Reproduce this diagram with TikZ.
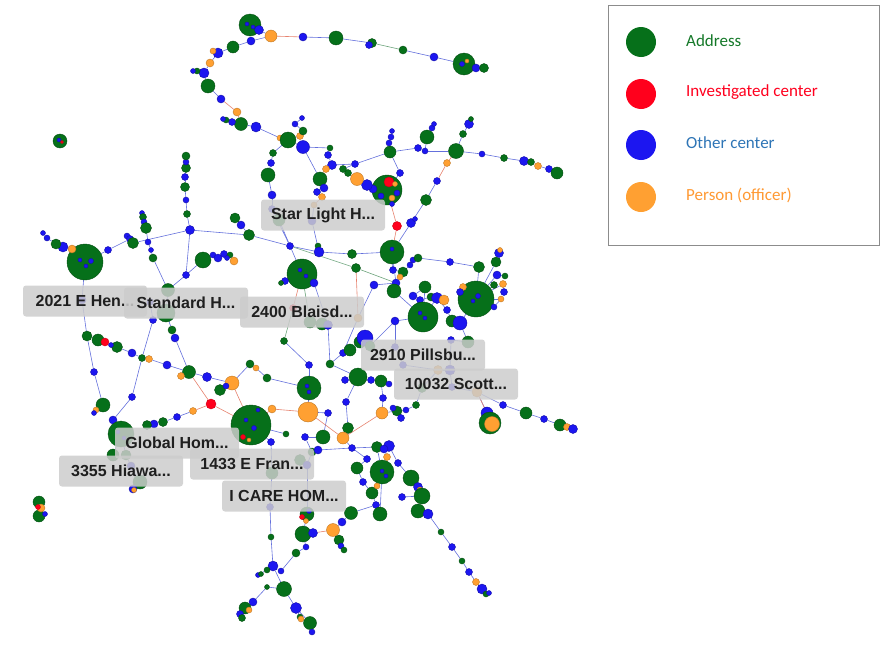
\documentclass[tikz,border=0pt]{standalone}
\usepackage{fontspec}
\setmainfont{Liberation Sans}
\newfontfamily\legfont{Carlito}
\usetikzlibrary{backgrounds}
\definecolor{gA}{RGB}{6,112,26}
\definecolor{bO}{RGB}{28,22,240}
\definecolor{rI}{RGB}{255,0,28}
\definecolor{oP}{RGB}{255,160,50}
\definecolor{eB}{RGB}{100,112,220}
\definecolor{eG}{RGB}{110,165,125}
\definecolor{eR}{RGB}{230,130,110}
\definecolor{lblue}{RGB}{46,117,182}
\definecolor{lgreen}{RGB}{20,120,40}
\definecolor{lorange}{RGB}{255,153,51}
\definecolor{lred}{RGB}{255,0,30}
\tikzset{
 vtx/.style={circle, inner sep=0pt, line width=0.4pt},
 adr/.style={vtx, fill=gA, draw=gA!70!black},
 inv/.style={vtx, fill=rI, draw=rI!80!black},
 oth/.style={vtx, fill=bO, draw=bO!70!black},
 per/.style={vtx, fill=oP, draw=oP!75!black},
 eb/.style={draw=eB, line width=0.6pt},
 eg/.style={draw=eG, line width=0.6pt},
 er/.style={draw=eR, line width=0.6pt},
 lbl/.style={fill=black!20, fill opacity=0.85, text opacity=1, rounded corners=3pt,
   minimum width=124pt, minimum height=31pt, inner xsep=6pt, text=black!88,
   font=\bfseries\fontsize{16}{18}\selectfont},
 legdot/.style={circle, inner sep=0pt, minimum size=30pt},
 legtxt/.style={anchor=west, inner sep=0pt, font=\legfont\fontsize{17}{20}\selectfont}
}
\begin{document}
\begin{tikzpicture}[x=1pt,y=-1pt]
\useasboundingbox (0,0) rectangle (887,648);
% ---------------- nodes ----------------
\foreach \nn/\xx/\yy/\kk/\ss in {
t1/250/25/adr/22, t2/259/30/oth/9, t3/271/36/per/12, t4/303/37/oth/8, t5/336/38/adr/14,
t6/372/43/adr/9, t6b/369/45/oth/7, t7/403/50/adr/8, t8/434/57/oth/8, t9/464/64/adr/22,
t10/476/68/oth/8, t11/484/68/adr/9, t12/251/41/oth/8, t13/233/47/adr/12, t14/218/53/oth/10,
t15/213/51/per/6, t16/210/63/per/8, t17/204/73/oth/10, t17b/197/71/adr/6, t17c/193/71/oth/5,
t18/208/86/adr/14, t19/221/99/oth/8, t20/237/112/per/8, t21/241/124/adr/13, t21b/232/122/oth/7,
t21c/226/120/adr/6, t21d/223/119/oth/5, t22/256/127/oth/10,
L0/60/141/adr/14,
f1/280/138/per/6, f2/288/140/adr/16, f3/300/136/per/7, f4/303/131/adr/8, f5/295/124/oth/6,
f5b/302/118/oth/5, f7/303/147/oth/13, f8/273/153/adr/7, f9/271/163/oth/7, f10/268/175/adr/14,
f11/272/195/oth/8, f12/272/209/oth/7, f13/279/220/adr/12, f14/330/148/adr/6, f15/328/155/oth/7,
f16/332/165/oth/9, f17/326/169/per/7, f18/320/179/adr/14, f19/324/188/oth/8, f20/317/192/oth/7,
f21/322/197/per/7, f22/314/205/per/6, f23/312/221/oth/8,
e1/390/152/adr/12, e2/389/143/oth/6, e3/391/137/oth/6, e4/392/131/oth/5, e5/427/137/adr/14,
e6/432/128/oth/6, e7/434/124/oth/5, e8/418/148/oth/7, e9/425/151/oth/6, e10/456/151/adr/15,
e11/463/134/adr/7, e12/469/124/oth/9, e13/471/119/adr/5, e14/447/163/per/7, e15/437/181/oth/7,
e16/426/200/adr/11, e17/411/223/oth/9, e18/415/219/oth/5, e19/482/154/oth/6, e20/504/158/adr/7,
e21/524/161/oth/9, e22/531/162/adr/7, e23/538/166/per/7, e24/549/169/oth/7, e25/557/173/adr/12,
e26/387/190/adr/30, e27/389/182/inv/10, e28/395/184/per/5, e29/381/196/oth/6, e30/392/198/per/6,
e31/397/193/oth/6, e32/397/226/inv/9, e33/373/189/oth/8, e34/367/185/oth/11, e35/357/179/per/13,
e36/348/173/adr/7, e37/343/169/adr/7, e39/355/164/oth/7, e40/400/173/oth/7,
a1/85/262/adr/36, a2/72/249/per/8, a3/63/247/oth/10, a4/56/244/adr/10, a5/47/238/oth/6,
a6/43/233/oth/5, a7/108/250/oth/7, a8/127/236/oth/6, a9/130/239/oth/7, a10/133/243/adr/11,
a11/142/213/oth/5, a12/143/217/adr/7, a13/144/222/oth/6, a14/146/228/adr/11, a15/190/230/oth/9,
a16/187/214/adr/7, a17/186/200/oth/6, a18/185/187/adr/9, a19/185/177/oth/7, a20/186/168/adr/9,
a21/186/162/oth/6, a22/186/156/adr/8, a23/249/235/adr/11, a24/235/218/adr/10, a25/241/225/oth/8,
a26/203/260/adr/16, a27/213/255/oth/6, a28/218/258/oth/8, a29/224/254/oth/7, a30/230/255/adr/6,
a31/234/261/per/8, a32/227/258/oth/5, a33/186/275/oth/7, a34/168/290/adr/13, a35/166/313/adr/18,
a36/150/302/oth/7, a37/148/242/oth/6, a38/151/250/oth/5, a39/153/258/adr/8,
c1/82/300/oth/8, c2/87/336/adr/10, c3/98/340/adr/12, c4/105/342/inv/8, c5/117/347/adr/11,
c5b/111/345/oth/5, c6/132/353/oth/8, c7/142/358/adr/7, c8/149/359/per/7, c9/167/365/oth/8,
c10/189/372/adr/13, c11/181/376/per/7, c12/207/377/oth/9, c13/232/383/per/14, c14/220/390/adr/11,
c14b/226/386/oth/6, c15/94/372/oth/7, c16/103/405/adr/14, c17/96/410/per/6, c18/94/413/oth/5,
c19/113/420/oth/8, c20/132/397/oth/7, c21/211/404/inv/10, c22/193/411/per/7, c23/177/417/oth/7,
c24/163/422/adr/9, c25/154/424/oth/8, c26/147/425/adr/9, c27/121/434/adr/26, c28/113/455/adr/12,
c29/126/455/adr/10, c30/131/466/oth/8, c31/140/482/adr/14, c32/133/489/oth/8, c33/134/490/per/5,
c34/172/330/adr/8, c35/175/338/oth/8, c36/153/320/oth/7,
LL1/39/502/adr/12, LL2/39/516/adr/12, LL3/41/508/per/8, LL4/38/507/inv/5, LL5/45/514/oth/5,
d1/251/425/adr/40, d4/272/409/per/8, d5/308/412/per/20, d6/309/388/adr/24, d7/328/413/oth/7,
d8/323/437/adr/14, d9/250/364/adr/8, d10/256/368/per/6, d11/267/378/adr/8, d12/284/341/adr/7,
d13/309/365/oth/7, d14/330/364/adr/8, d15/343/353/oth/7, d16/350/350/adr/12, d17/360/342/adr/12,
d18/365/338/oth/16, d19/370/346/adr/10, d20/358/377/adr/18, d21/371/380/oth/7, d22/382/413/per/12,
d23/397/411/adr/10, d24/393/408/oth/6, d25/401/418/oth/7, d26/406/410/oth/6, d27/346/402/oth/7,
d28/348/428/adr/11, d29/343/438/per/12, d30/352/448/oth/7, d31/382/472/adr/24, d32/383/398/oth/7,
d33/403/365/oth/7, d34/438/370/per/9, d35/293/308/inv/7, d36/358/318/per/8, d37/310/322/adr/12,
d38/322/324/adr/12, d39/328/325/oth/9, d40/290/246/oth/7, d41/318/246/adr/6, d42/319/252/oth/10,
d43/352/254/adr/9, d44/356/268/adr/9, d45/302/274/adr/30, d46/285/281/oth/7, d47/281/283/adr/5,
d48/314/283/oth/8, d49/392/252/adr/24, d50/374/285/oth/8, d51/393/270/oth/7, d52/403/272/adr/10,
d53/400/277/per/6, d54/410/265/oth/6, d55/413/260/oth/6, d56/418/258/adr/8, d57/396/283/oth/8,
d58/394/291/adr/14, d59/425/287/adr/12, d60/413/296/oth/8, d61/420/300/oth/7, d62/431/297/adr/8,
d63/423/317/adr/30, d64/395/321/oth/8, d65/437/298/oth/11, d66/444/300/per/10, d67/447/310/oth/7,
d68/452/321/adr/12, d69/460/323/oth/14, d70/476/299/adr/36, d71/496/262/adr/10, d72/499/253/oth/9,
d73/500/250/per/5, d74/450/262/oth/7, d77/479/267/adr/11, d78/497/275/oth/8, d79/505/276/adr/6,
d80/503/284/per/7, d81/504/292/oth/7, d82/501/299/per/6, d83/494/307/oth/6, d84/463/287/per/7,
d85/460/292/oth/7, d86/494/285/adr/7, d88/468/342/adr/12, d89/451/340/oth/7, d90/450/370/oth/10,
d91/452/387/oth/7, d92/477/392/per/10, d93/487/413/oth/12, d94/490/423/adr/22, d95/492/424/per/15,
d96/503/405/oth/7, d97/526/413/adr/12, d98/544/419/oth/7, d99/560/425/adr/12, d100/567/427/per/7,
d101/573/429/oth/9, d102/416/405/adr/7, d103/422/388/adr/9, d104/395/347/oth/7, d112/377/447/adr/11,
d113/389/446/oth/11, d114/384/449/oth/8, d115/387/457/per/7, d116/398/463/oth/7, h6/381/381/adr/12,
h7/389/384/oth/6, h8/271/442/oth/7, h3/305/437/oth/7, h2/286/434/adr/6, h5/345/380/oth/7,
g1/272/473/adr/12, g3/300/460/adr/11, g4/307/465/oth/8, g5/312/452/adr/8, g6/318/450/oth/8,
g7/270/507/oth/7, g8/307/514/adr/14, g9/302/517/inv/5, g10/306/521/per/5, g11/309/511/oth/5,
g12/303/534/adr/16, g13/313/533/oth/9, g14/306/547/oth/6, g15/333/530/per/13, g16/339/540/adr/10,
g17/341/546/oth/6, g18/344/550/adr/6, g19/351/513/adr/13, g20/342/522/oth/8, g21/296/553/adr/8,
g22/271/537/adr/6, g23/273/566/oth/10, g24/281/571/oth/6, g25/267/570/adr/6, g26/258/575/oth/5,
g27/261/574/adr/5, g28/284/589/adr/15, g29/267/587/adr/5, g30/253/602/oth/8, g31/245/608/adr/12,
g32/240/614/oth/7, g33/249/610/per/6, g34/242/618/adr/7, g35/296/608/oth/11, g36/300/617/adr/6,
g37/301/619/per/6, g38/310/623/adr/13, g39/312/632/oth/6, g40/357/468/adr/12, g41/363/482/oth/7,
g42/372/493/adr/12, g43/377/486/per/6, g44/376/505/oth/7, g45/380/514/adr/14, g46/367/459/oth/7,
g47/411/478/adr/16, g48/418/487/oth/9, g49/420/490/per/6, g50/422/496/adr/16, g51/402/497/oth/7,
g52/418/511/adr/14, g53/428/514/oth/10, g54/441/532/adr/6, g55/452/547/oth/7, g56/462/561/adr/6,
g57/469/572/oth/7, g58/476/582/per/7, g59/482/589/oth/10, g60/486/594/adr/6, g61/489/593/oth/5,
x1/80/260/oth/4, x2/86/266/oth/4, x3/91/261/oth/5, x4/300/270/oth/4, x5/306/276/oth/4,
x6/246/420/oth/4, x7/254/428/oth/5, x8/243/437/inv/5, x9/249/440/per/4, x10/478/296/oth/5,
x11/473/301/oth/4, x12/420/313/oth/4, x13/425/318/oth/4, x14/118/432/oth/4, x15/124/438/oth/4,
x16/462/64/oth/5, x17/467/61/per/4, x18/247/24/oth/4, x19/253/27/oth/4, x20/307/386/oth/4,
x21/309/392/oth/4, x22/392/249/oth/4, x23/382/471/oth/4, x24/386/476/oth/4, x25/59/140/oth/4,
x26/62/142/inv/3, x27/392/204/oth/5, x28/258/410/oth/4}{%
  \node[\kk, minimum size=\ss pt] (\nn) at (\xx,\yy) {};
}
% ---------------- connectors ----------------
\begin{pgfonlayer}{background}
\foreach \aa/\bb in {
t9/t8, t8/t7, t6/t5, t5/t4, t3/t12, t12/t13, t13/t14, t14/t16, t16/t17, t17/t18, t18/t19,
t22/f1, t1/t2, t2/t3, t9/t10, t10/t11, t6/t6b, t14/t15, t17/t17b, t17b/t17c, t21/t21b,
t21b/t21c, t21c/t21d, t21/t22,
f1/f2, f2/f3, f3/f4, f4/f5, f5/f5b, f2/f7, f2/f8, f8/f9, f9/f10, f10/f11, f11/f12, f12/f13,
f7/f14, f14/f15, f15/f16, f7/f18, f18/f19, f19/f20, f20/f21, f22/f23, f23/d42, f16/e39,
e39/e1, e1/e2, e2/e3, e3/e4, e1/e8, e8/e9, e9/e10, e5/e9, e5/e6, e6/e7, e10/e11, e11/e12,
e12/e13, e10/e19, e19/e20, e20/e21, e21/e22, e23/e24, e24/e25, e15/e16, e16/e17, e17/e18,
e17/d49, e1/e40, e40/e26, e26/e33, e33/e34, e36/e37, e37/e39,
a2/a3, a3/a4, a4/a5, a5/a6, a1/a7, a7/a9, a9/a8, a9/a10, a10/a15, a15/a23, a15/a16,
a16/a17, a17/a18, a18/a19, a19/a20, a20/a21, a21/a22, a14/a13, a13/a12, a12/a11, a14/a37,
a37/a38, a38/a39, a39/a34, a15/a33, a33/a34, a33/a26, a26/a27, a27/a28, a28/a29, a29/a30,
a30/a31, a29/a32, a24/a25, a25/a23, a23/d40, a34/a35, a35/a36,
c1/a1, c1/c2, c2/c3, c4/c5, c5/c5b, c5/c6, c6/c7, c7/c8, c8/c9, c9/c10, c10/c11, c10/c12,
c12/c13, c13/c14, c14/c14b, c2/c15, c15/c16, c16/c17, c16/c18, c36/c7, c7/c20, c20/c19,
c19/c27, c22/c23, c23/c24, c24/c25, c25/c26, c27/c28, c27/c29, c29/c30, c30/c31, c31/c32,
c32/c33, a35/c34, c34/c35, c35/c10, a36/c36, LL1/LL3, LL3/LL2, LL2/LL5, LL1/LL4,
d40/d42, d41/d42, d42/d43, d43/d49, d45/d46, d46/d47, d45/d48, d48/d39, d37/d38, d38/d39,
d39/d14, d14/d15, d15/d16, d16/d17, d17/d18, d18/d19, d19/d64, d50/d36, d36/d15, d57/d50,
d49/d51, d51/d52, d52/d53, d52/d54, d54/d55, d55/d56, d56/d74, d74/d77, d77/d70, d49/d57,
d57/d58, d58/d63, d63/d64, d63/d59, d59/d60, d60/d61, d61/d62, d63/d65, d65/d66, d65/d67,
d67/d68, d68/d69, d69/d70, d70/d71, d71/d72, d72/d73, d70/d78, d78/d79, d70/d80, d80/d81,
d70/d82, d82/d83, d70/d84, d84/d85, d70/d86, d69/d88, d88/d89, d89/d90, d90/d34, d34/d33,
d90/d91, d91/d92, d92/d93, d93/d94, d92/d96, d96/d97, d97/d98, d98/d99, d99/d100, d100/d101,
d64/d104, d104/d33, d13/d6, d6/d5, d5/d7, d7/d8, d6/d11, d11/d10, d10/d9, d9/c13, d12/d13,
d14/d20, d20/h5, d20/d21, d21/h7, h7/h6, h6/d32, d32/d22, d22/d23, d23/d24, d23/d25, d23/d26,
d26/d102, d102/d103, d103/d34, d20/d27, d27/d28, d28/d29, d29/d30, d30/d112, d112/d113,
d113/d114, d114/d115, d113/d116, d31/d112, d31/g45, d116/g47, d8/h3, h3/g5, h2/d1, d1/h8,
h8/g1, g1/g7, g7/g22, g22/g23, g23/g24, g23/g25, g25/g26, g26/g27, g23/g28, g28/g29, g29/g30,
g30/g31, g31/g32, g31/g33, g31/g34, g28/g35, g35/g36, g36/g37, g35/g38, g38/g39, g3/g4,
g4/g5, g5/g6, g6/d30, g4/g8, g8/g11, g8/g12, g12/g13, g15/g20, g20/g19, g19/g44, g44/g42,
g42/g43, g41/g42, g40/g41, g46/g40, d30/g46, g44/g45, g15/g16, g16/g17, g17/g18, g12/g14,
g14/g21, g21/g24, g47/g48, g48/g49, g47/g50, g50/g51, g50/g52, g52/g53, g53/g54, g54/g55,
g55/g56, g56/g57, g57/g58, g58/g59, g59/g60, g60/g61, f13/d45, f12/d40, d93/d95}{%
  \draw[eb] (\aa) -- (\bb);
}
\foreach \aa/\bb in {
t3/t4, t19/t20, t20/t21, e26/e32, e32/d49, e10/e14, e14/e15, e22/e23, e34/e35, e35/e36,
f16/f17, f17/f18, f21/f22, a1/a2, c3/c4, c13/d1, c10/c21, c21/c22, c21/d1, d1/d4, d4/d5,
d45/d35, d36/d44, d29/d22, g8/g9, g8/g10, g13/g15, d92/d95, d5/d29}{%
  \draw[er] (\aa) -- (\bb);
}
\foreach \aa/\bb in {t7/t6, d35/d12, d40/d44, d44/d57, c36/a35, d37/d45}{%
  \draw[eg] (\aa) -- (\bb);
}
\end{pgfonlayer}
% ---------------- labels ----------------
\node[lbl] (lb1) at (323,215) {Star Light H...};
\node[lbl] (lb2) at (85,301) {2021 E Hen...};
\node[lbl] (lb3) at (186,303) {Standard H...};
\node[lbl] (lb4) at (302,312) {2400 Blaisd...};
\node[lbl] (lb5) at (423,355) {2910 Pillsbu...};
\node[lbl] (lb6) at (456,384) {10032 Scott...};
\node[lbl] (lb7) at (177,443) {Global Hom...};
\node[lbl] (lb9) at (121,471) {3355 Hiawa...};
\node[lbl] (lb8) at (252,464) {1433 E Fran...};
\node[lbl] (lb10) at (284,496) {I CARE HOM...};
% ---------------- legend ----------------
\node[draw=black!45, line width=0.8pt, minimum width=271pt, minimum height=240pt,
      anchor=north west, inner sep=0pt] (leg) at (608,5) {};
\node[legdot, fill=gA] (lg1) at (641,42) {};
\node[legdot, fill=rI] (lg2) at (641,94) {};
\node[legdot, fill=bO] (lg3) at (641,145) {};
\node[legdot, fill=oP] (lg4) at (641,197) {};
\node[legtxt, text=lgreen] (lt1) at (686,41) {Address};
\node[legtxt, text=lred] (lt2) at (686,92) {Investigated center};
\node[legtxt, text=lblue] (lt3) at (686,143) {Other center};
\node[legtxt, text=lorange] (lt4) at (686,195) {Person (officer)};
\end{tikzpicture}
\end{document}
